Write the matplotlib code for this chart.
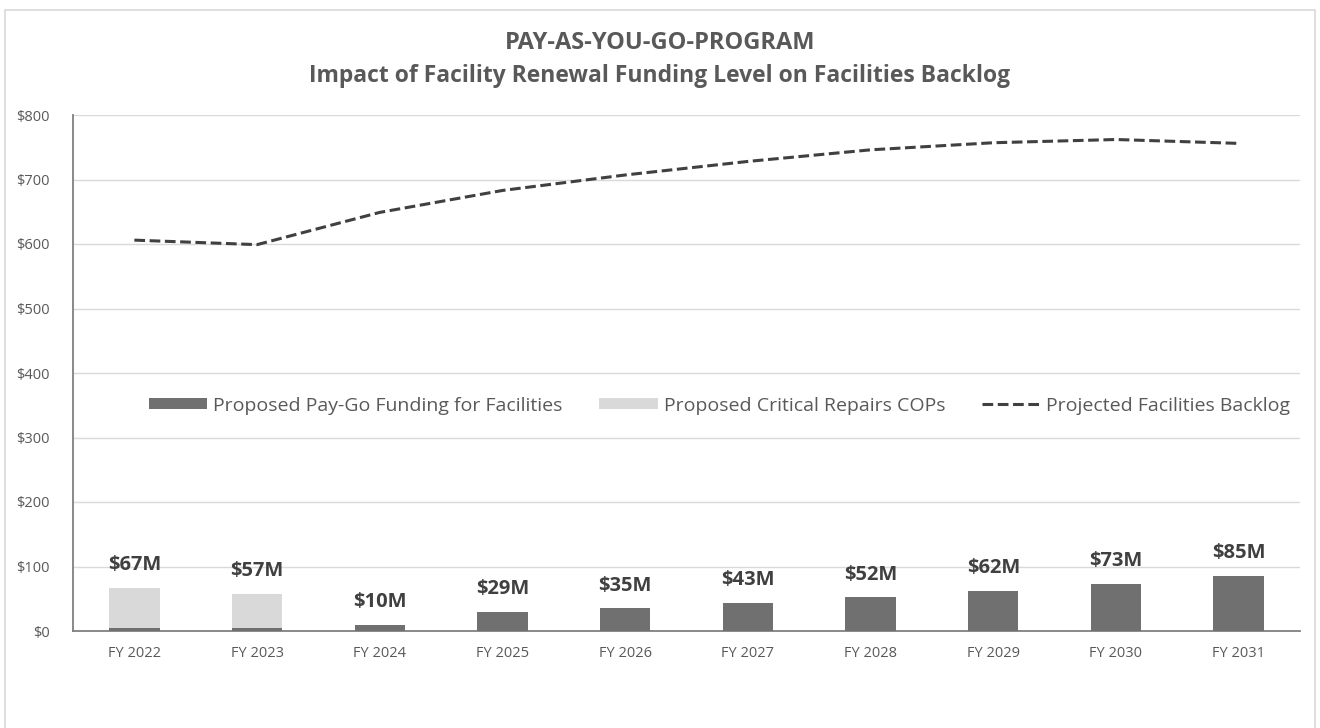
import matplotlib
matplotlib.use('Agg')
import matplotlib.pyplot as plt
from matplotlib.patches import Rectangle
import numpy as np

plt.rcParams['font.family'] = ['Open Sans', 'DejaVu Sans']

years = ['FY 2022', 'FY 2023', 'FY 2024', 'FY 2025', 'FY 2026',
         'FY 2027', 'FY 2028', 'FY 2029', 'FY 2030', 'FY 2031']
paygo = [5, 5, 10, 29, 35, 43, 52, 62, 73, 85]
cops = [62, 52, 0, 0, 0, 0, 0, 0, 0, 0]
backlog = [606, 599, 649, 683, 707, 728, 746, 757, 762, 756]
bar_labels = ['$67M', '$57M', '$10M', '$29M', '$35M',
              '$43M', '$52M', '$62M', '$73M', '$85M']

fig = plt.figure(figsize=(13.2, 7.28), dpi=100)
fig.patches.append(Rectangle((5 / 1320, -0.05), 1310 / 1320, 1.05 - 10 / 728,
                             transform=fig.transFigure, fill=False,
                             edgecolor='#d9d9d9', linewidth=1.2))
ax = fig.add_axes([73 / 1320, 1 - 631 / 728, 1227 / 1320, 516 / 728])

x = np.arange(len(years))
b1 = ax.bar(x, paygo, width=0.41, color='#707070', zorder=3)
b2 = ax.bar(x, cops, width=0.41, bottom=paygo, color='#d9d9d9', zorder=3)
ln, = ax.plot(x, backlog, color='#404040', linestyle=(0, (3.5, 1.5)), linewidth=2.2, zorder=4)

for i in range(len(years)):
    top = paygo[i] + cops[i]
    ax.text(x[i], top + 20, bar_labels[i], ha='center', va='bottom',
            fontsize=14.5, fontweight='bold', color='#404040')

ax.set_xlim(-0.5, len(years) - 0.5)
ax.set_ylim(0, 800)
ax.set_yticks(range(0, 801, 100))
ax.set_yticklabels(['$' + str(v) for v in range(0, 801, 100)])
ax.set_xticks(x)
ax.set_xticklabels(years)
ax.tick_params(axis='both', length=0, labelsize=10.5, colors='#595959')
ax.tick_params(axis='x', pad=11)
ax.tick_params(axis='y', pad=17)
ax.grid(axis='y', color='#d9d9d9', linewidth=1, zorder=0)
for s in ['top', 'right']:
    ax.spines[s].set_visible(False)
ax.spines['left'].set_color('#808080')
ax.spines['bottom'].set_color('#808080')
ax.spines['left'].set_linewidth(1.3)
ax.spines['bottom'].set_linewidth(1.3)

ax.legend([b1, b2, ln],
          ['Proposed Pay-Go Funding for Facilities', 'Proposed Critical Repairs COPs',
           'Projected Facilities Backlog'],
          loc='center', bbox_to_anchor=(0.527, 0.437), ncol=3, frameon=False,
          fontsize=14, labelcolor='#595959', handlelength=3.0, handleheight=0.45,
          columnspacing=1.9, handletextpad=0.3)

fig.text(0.5, 1 - 43 / 728, 'PAY-AS-YOU-GO-PROGRAM', ha='center', va='center',
         fontsize=17, fontweight='bold', color='#595959')
fig.text(0.5, 1 - 76 / 728, 'Impact of Facility Renewal Funding Level on Facilities Backlog',
         ha='center', va='center', fontsize=16.5, fontweight='bold', color='#595959')

fig.savefig('out.png', dpi=100)
